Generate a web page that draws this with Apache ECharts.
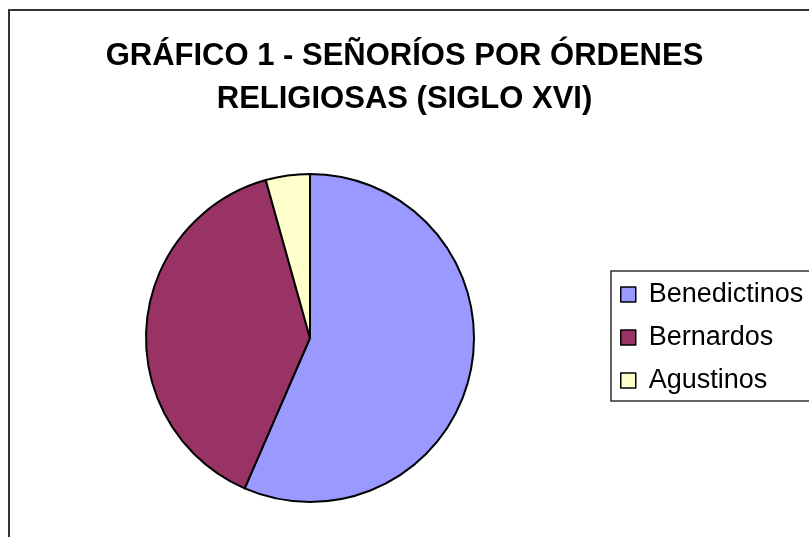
<!DOCTYPE html>
<html>
<head>
<meta charset="utf-8">
<title>Señoríos por órdenes religiosas</title>
<script src="https://cdn.jsdelivr.net/npm/echarts@6/dist/echarts.min.js"></script>
<style>
  html, body { margin: 0; padding: 0; background: #fff; }
  #chart { width: 809px; height: 537px; }
</style>
</head>
<body>
<div id="chart"></div>
<script>
// data
var ordenes = ['Benedictinos', 'Bernardos', 'Agustinos'];
var senorios = [13, 9, 1];
var colores = ['#9999FF', '#993366', '#FFFFCC'];

var chart = echarts.init(document.getElementById('chart'));

var pieData = ordenes.map(function(name, i) {
    return { name: name, value: senorios[i], itemStyle: { color: colores[i] } };
});

chart.setOption({
    backgroundColor: '#fff',
    animation: false,
    title: {
        text: 'GRÁFICO 1 - SEÑORÍOS POR ÓRDENES\nRELIGIOSAS (SIGLO XVI)',
        left: 'center',
        top: 30,
        textStyle: {
            fontFamily: 'Liberation Sans',
            fontWeight: 'bold',
            fontSize: 31,
            lineHeight: 43,
            color: '#000'
        }
    },
    legend: {
        orient: 'vertical',
        left: 611,
        top: 271,
        data: ordenes,
        icon: 'rect',
        itemWidth: 15,
        itemHeight: 15,
        itemGap: 16,
        padding: [10, 24, 7, 9],
        borderColor: '#333',
        borderWidth: 1.5,
        itemStyle: { borderColor: '#000', borderWidth: 1.5 },
        textStyle: {
            fontFamily: 'Liberation Sans',
            fontSize: 27,
            padding: [0, 0, 0, 8],
            color: '#000'
        }
    },
    graphic: [{
        type: 'rect',
        shape: { x: 9, y: 10, width: 820, height: 560 },
        style: { fill: null, stroke: '#333', lineWidth: 2 },
        silent: true
    }],
    series: [{
        type: 'pie',
        center: [310, 338],
        radius: 164,
        startAngle: 90,
        clockwise: true,
        label: { show: false },
        labelLine: { show: false },
        emphasis: { disabled: true },
        itemStyle: { borderColor: '#000', borderWidth: 2 },
        data: pieData
    }]
});

window.addEventListener('resize', function() { chart.resize(); });
</script>
</body>
</html>
